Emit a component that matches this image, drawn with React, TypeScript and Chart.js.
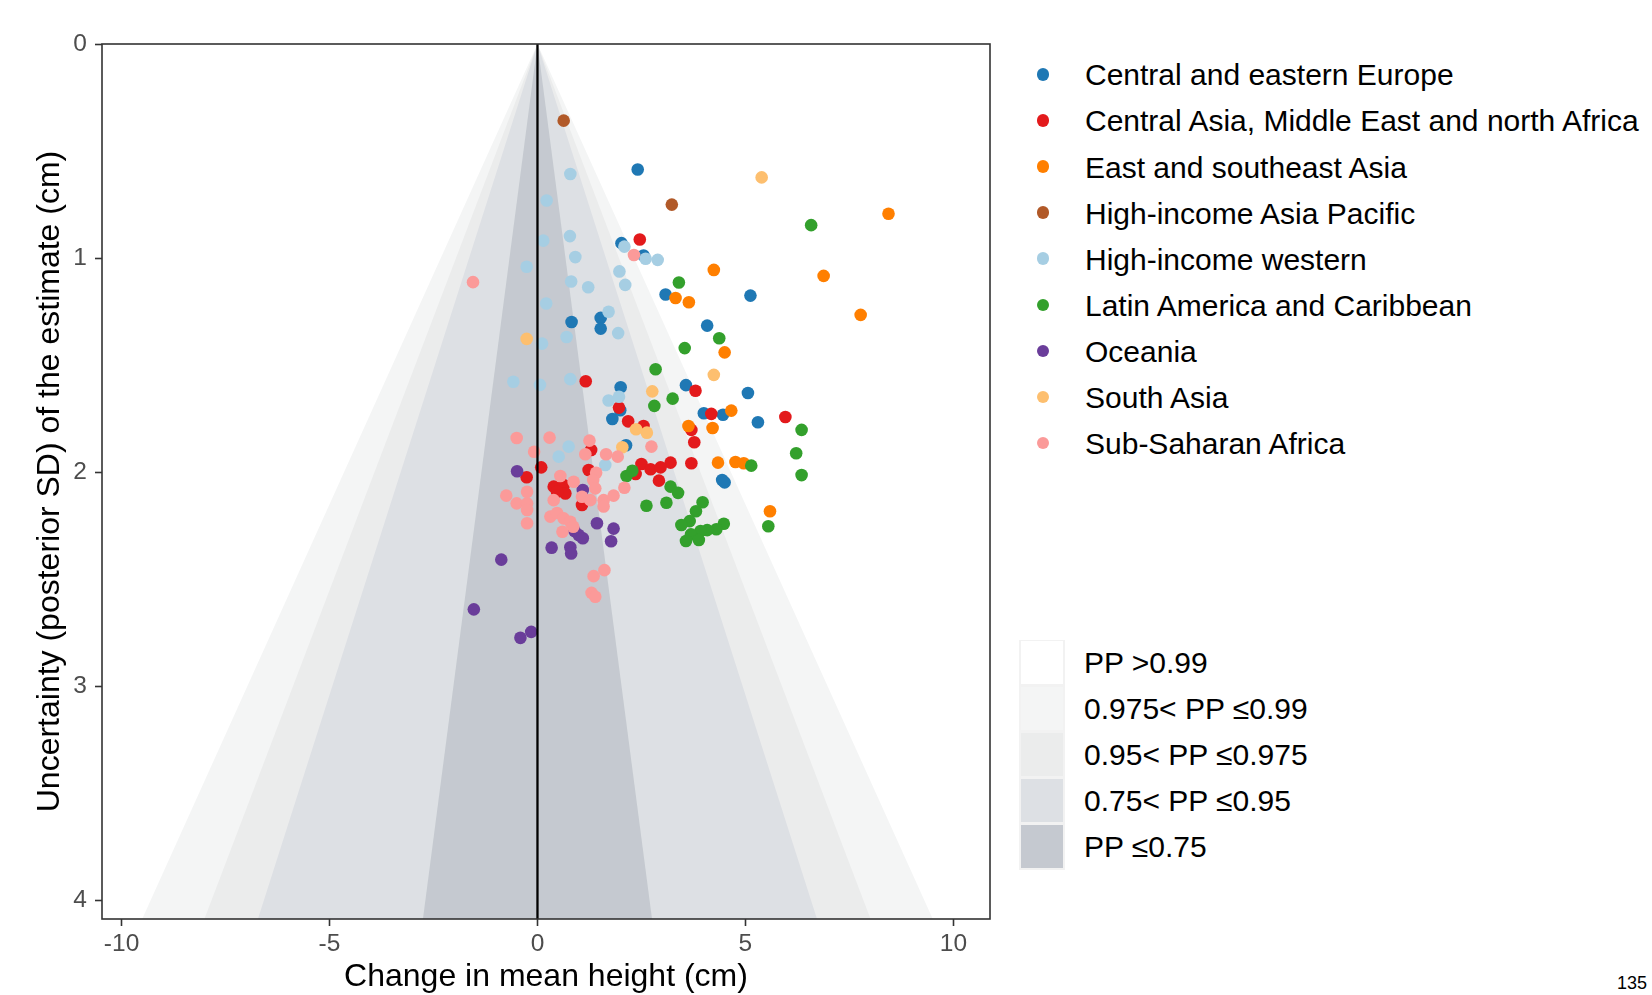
import React, { useEffect, useRef } from "react";
import { Chart, registerables } from "chart.js";

Chart.register(...registerables);

const FONT = '"Liberation Sans", Arial, Helvetica, sans-serif';

// ---------- data ----------
const regionNames = [
  "Central and eastern Europe",
  "Central Asia, Middle East and north Africa",
  "East and southeast Asia",
  "High-income Asia Pacific",
  "High-income western",
  "Latin America and Caribbean",
  "Oceania",
  "South Asia",
  "Sub-Saharan Africa",
];

const regionColors = [
  "#1F78B4",
  "#E31A1C",
  "#FF7F00",
  "#B15928",
  "#A6CEE3",
  "#33A02C",
  "#6A3D9A",
  "#FDBF6F",
  "#FB9A99",
];

// [change in mean height (cm), posterior SD (cm)]
const centralEasternEurope = [
  [2.41, 0.586], [2.02, 0.93], [2.55, 0.988], [3.08, 1.17], [5.12, 1.175],
  [1.52, 1.279], [1.52, 1.329], [0.82, 1.298], [4.08, 1.315], [2.0, 1.603],
  [3.57, 1.593], [5.06, 1.63], [1.99, 1.71], [1.8, 1.751], [4.0, 1.724],
  [4.46, 1.731], [5.3, 1.766], [2.13, 1.874], [4.44, 2.036], [4.5, 2.047],
];

const centralAsiaMENA = [
  [2.46, 0.913], [1.16, 1.575], [3.8, 1.619], [1.96, 1.698], [4.18, 1.727],
  [2.18, 1.762], [2.55, 1.784], [5.96, 1.742], [3.7, 1.802], [3.77, 1.86],
  [1.29, 1.896], [3.7, 1.958], [3.2, 1.955], [2.5, 1.961], [2.72, 1.986],
  [2.96, 1.977], [2.92, 2.039], [2.36, 2.008], [1.23, 1.989], [0.09, 1.977],
  [-0.26, 2.023], [0.39, 2.067], [0.63, 2.06], [0.67, 2.099], [0.47, 2.091],
  [1.07, 2.153],
];

const eastSoutheastAsia = [
  [8.44, 0.793], [4.24, 1.055], [6.88, 1.083], [7.77, 1.265], [3.32, 1.186],
  [3.64, 1.206], [4.5, 1.44], [4.66, 1.712], [3.63, 1.784], [4.21, 1.793],
  [4.34, 1.955], [4.76, 1.952], [4.96, 1.958], [5.59, 2.182],
];

const highIncomeAsiaPacific = [
  [0.63, 0.358], [3.23, 0.75],
];

const highIncomeWestern = [
  [0.79, 0.607], [0.22, 0.731], [0.78, 0.897], [0.14, 0.918], [2.09, 0.946],
  [2.6, 1.003], [2.89, 1.008], [0.91, 0.995], [-0.26, 1.04], [1.97, 1.062],
  [0.81, 1.109], [1.22, 1.136], [2.11, 1.125], [0.21, 1.212], [1.71, 1.25],
  [1.94, 1.35], [0.7, 1.368], [0.11, 1.399], [-0.58, 1.577], [0.06, 1.592],
  [0.79, 1.565], [1.71, 1.665], [1.96, 1.647], [0.75, 1.88], [0.51, 1.927],
  [1.63, 1.966],
];

const latinAmericaCaribbean = [
  [6.58, 0.846], [3.4, 1.114], [3.54, 1.42], [4.37, 1.374], [2.84, 1.519],
  [3.25, 1.656], [2.81, 1.69], [6.35, 1.802], [5.14, 1.969], [6.22, 1.911],
  [6.35, 2.013], [2.14, 2.017], [2.28, 1.993], [3.2, 2.067], [3.38, 2.096],
  [2.62, 2.156], [3.1, 2.142], [3.97, 2.14], [3.81, 2.182], [3.66, 2.228],
  [3.46, 2.246], [4.48, 2.24], [4.3, 2.266], [4.08, 2.27], [3.92, 2.274],
  [3.69, 2.29], [3.88, 2.316], [3.57, 2.321], [5.55, 2.252],
];

const oceania = [
  [-0.49, 1.995], [1.09, 2.083], [1.43, 2.238], [1.83, 2.263], [1.77, 2.322],
  [0.89, 2.274], [0.99, 2.293], [1.09, 2.308], [0.34, 2.352], [0.79, 2.35],
  [0.81, 2.379], [-0.87, 2.408], [-1.53, 2.64], [-0.15, 2.745], [-0.41, 2.773],
];

const southAsia = [
  [5.39, 0.623], [-0.26, 1.377], [2.76, 1.622], [4.24, 1.545], [2.37, 1.799],
  [2.63, 1.815], [2.04, 1.883],
];

const subSaharanAfrica = [
  [2.32, 0.985], [-1.55, 1.112], [2.74, 1.88], [-0.5, 1.84], [0.29, 1.838],
  [-0.08, 1.904], [1.25, 1.852], [1.15, 1.916], [1.65, 1.916], [1.93, 1.927],
  [1.41, 2.002], [1.34, 2.036], [0.55, 2.017], [0.87, 2.044], [-0.75, 2.109],
  [-0.5, 2.145], [-0.25, 2.091], [-0.25, 2.145], [-0.25, 2.176], [-0.25, 2.238],
  [0.31, 2.207], [0.47, 2.19], [0.63, 2.215], [0.79, 2.231], [0.86, 2.254],
  [0.6, 2.278], [0.39, 2.13], [1.07, 2.114], [1.27, 2.13], [1.39, 2.075],
  [1.59, 2.13], [1.59, 2.16], [1.83, 2.109], [2.09, 2.072], [1.35, 2.485],
  [1.61, 2.457], [1.3, 2.563], [1.39, 2.581],
];

const regionPoints = [
  centralEasternEurope,
  centralAsiaMENA,
  eastSoutheastAsia,
  highIncomeAsiaPacific,
  highIncomeWestern,
  latinAmericaCaribbean,
  oceania,
  southAsia,
  subSaharanAfrica,
];

const ppLabels = [
  "PP >0.99",
  "0.975< PP \u22640.99",
  "0.95< PP \u22640.975",
  "0.75< PP \u22640.95",
  "PP \u22640.75",
];
const ppColors = ["#FFFFFF", "#F4F5F5", "#EBECEC", "#DDE0E4", "#C5C9D0"];
// slope (|change| / SD) of the funnel boundary at PP = 0.99, 0.975, 0.95, 0.75
const bandSlopes = [2.326, 1.96, 1.645, 0.674];

const xTicks = [-10, -5, 0, 5, 10];
const yTicks = [0, 1, 2, 3, 4];
const X_MIN = -10.47;
const X_MAX = 10.88;
const Y_MAX = 4.086;

const framePlugin = {
  id: "panelFrame",
  afterDraw(chart: any) {
    const { ctx, chartArea: a } = chart;
    ctx.save();
    ctx.strokeStyle = "#333333";
    ctx.lineWidth = 1.6;
    ctx.strokeRect(a.left, a.top, a.right - a.left, a.bottom - a.top);
    ctx.restore();
  },
};

export default function App() {
  const ref = useRef<HTMLCanvasElement | null>(null);

  useEffect(() => {
    const canvas = ref.current;
    if (!canvas) return;
    const datasets: any[] = [];

    bandSlopes.forEach((z, i) => {
      datasets.push({
        label: ppLabels[i + 1],
        data: [
          { x: -z * Y_MAX, y: Y_MAX },
          { x: 0, y: 0 },
          { x: z * Y_MAX, y: Y_MAX },
        ],
        showLine: true,
        borderWidth: 0,
        borderColor: "rgba(0,0,0,0)",
        backgroundColor: ppColors[i + 1],
        pointRadius: 0,
        fill: { value: Y_MAX },
        tension: 0,
        order: 100 - i,
      });
    });

    regionPoints.forEach((pts, k) => {
      datasets.push({
        label: regionNames[k],
        data: pts.map(([x, y]) => ({ x, y })),
        showLine: false,
        backgroundColor: regionColors[k],
        borderWidth: 0,
        pointRadius: 6.3,
        pointHoverRadius: 6.3,
        order: 20 - k,
      });
    });

    datasets.push({
      label: "zero",
      data: [
        { x: 0, y: 0 },
        { x: 0, y: Y_MAX },
      ],
      showLine: true,
      borderColor: "#000000",
      borderWidth: 2.3,
      pointRadius: 0,
      fill: false,
      order: 0,
    });

    const chart = new Chart(canvas, {
      type: "scatter",
      data: { datasets },
      options: {
        responsive: false,
        maintainAspectRatio: false,
        animation: false,
        events: [],
        layout: { padding: { left: 0, right: 10, top: 44, bottom: 0 } },
        plugins: {
          legend: { display: false },
          tooltip: { enabled: false },
        },
        scales: {
          x: {
            type: "linear",
            min: X_MIN,
            max: X_MAX,
            afterFit: (s: any) => {
              s.height = 76;
            },
            afterBuildTicks: (s: any) => {
              s.ticks = xTicks.map((v) => ({ value: v }));
            },
            ticks: {
              color: "#4D4D4D",
              font: { size: 24.5, family: FONT, lineHeight: 1.2 },
              padding: 3.3,
              maxRotation: 0,
              autoSkip: false,
              callback: (v: any) => String(v),
            },
            grid: {
              display: true,
              drawOnChartArea: false,
              drawTicks: true,
              tickLength: 7,
              tickColor: "#333333",
              tickWidth: 1.6,
            },
            border: { display: false },
            title: {
              display: true,
              text: "Change in mean height (cm)",
              color: "#000000",
              font: { size: 32, family: FONT, lineHeight: 1.125 },
              padding: 0,
            },
          },
          y: {
            type: "linear",
            reverse: true,
            min: 0,
            max: Y_MAX,
            afterFit: (s: any) => {
              s.width = 102;
            },
            afterBuildTicks: (s: any) => {
              s.ticks = yTicks.map((v) => ({ value: v }));
            },
            ticks: {
              color: "#4D4D4D",
              font: { size: 24.5, family: FONT, lineHeight: 1.2 },
              padding: 8,
              autoSkip: false,
              callback: (v: any) => String(v),
            },
            grid: {
              display: true,
              drawOnChartArea: false,
              drawTicks: true,
              tickLength: 7,
              tickColor: "#333333",
              tickWidth: 1.6,
            },
            border: { display: false },
            title: {
              display: true,
              text: "Uncertainty (posterior SD) of the estimate (cm)",
              color: "#000000",
              font: { size: 32, family: FONT, lineHeight: 1.125 },
              padding: { top: 32.6, bottom: 0 },
            },
          },
        },
      } as any,
      plugins: [framePlugin],
    });

    return () => chart.destroy();
  }, []);

  const legendTop = 75.3;
  const legendStep = 46.1;
  const ppTop = 639.5;
  const ppStep = 46;
  const legendFont = 30;

  return (
    <div
      style={{
        position: "absolute",
        left: 0,
        top: 0,
        width: 1652,
        height: 995,
        overflow: "hidden",
        background: "#FFFFFF",
        fontFamily: FONT,
      }}
    >
      <canvas
        ref={ref}
        width={1000}
        height={995}
        style={{ position: "absolute", left: 0, top: 0, width: 1000, height: 995 }}
      />
      {regionNames.map((name, i) => {
        const cy = legendTop + i * legendStep;
        return (
          <React.Fragment key={name}>
            <div
              style={{
                position: "absolute",
                left: 1043 - 6.3,
                top: cy - 1 - 6.3,
                width: 12.6,
                height: 12.6,
                borderRadius: "50%",
                background: regionColors[i],
              }}
            />
            <div
              style={{
                position: "absolute",
                left: 1085,
                top: cy,
                transform: "translateY(-50%)",
                fontSize: legendFont,
                lineHeight: 1,
                whiteSpace: "nowrap",
                color: "#000",
              }}
            >
              {name}
            </div>
          </React.Fragment>
        );
      })}
      {ppLabels.map((lab, i) => {
        const top = ppTop + i * ppStep;
        return (
          <React.Fragment key={lab}>
            <div
              style={{
                position: "absolute",
                left: 1019,
                top,
                width: 46,
                height: 46,
                background: "#F2F2F2",
              }}
            >
              <div
                style={{
                  position: "absolute",
                  left: 2,
                  top: 1.7,
                  width: 42,
                  height: 42.6,
                  background: ppColors[i],
                }}
              />
            </div>
            <div
              style={{
                position: "absolute",
                left: 1084,
                top: top + 23,
                transform: "translateY(-50%)",
                fontSize: legendFont,
                lineHeight: 1,
                whiteSpace: "nowrap",
                color: "#000",
              }}
            >
              {lab}
            </div>
          </React.Fragment>
        );
      })}
      <div
        style={{
          position: "absolute",
          left: 1617,
          top: 974,
          fontSize: 18,
          lineHeight: 1,
          color: "#000",
          whiteSpace: "nowrap",
        }}
      >
        135
      </div>
    </div>
  );
}
